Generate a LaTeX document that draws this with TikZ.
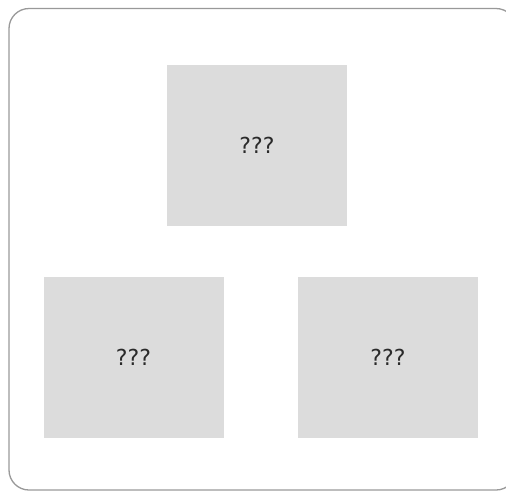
\documentclass[tikz,border=0pt]{standalone}
\usepackage{fontspec}
\setmainfont{DejaVu Sans}
\definecolor{boxfill}{HTML}{DCDCDC}
\definecolor{framecol}{HTML}{999999}
\definecolor{txt}{HTML}{2A2A2A}
\begin{document}
\begin{tikzpicture}[x=1pt,y=-1pt,
  unk/.style={fill=boxfill,draw=none,minimum width=180pt,minimum height=161pt,inner sep=0pt,
    text=txt,font=\fontsize{22}{26}\selectfont}]
\useasboundingbox (0,0) rectangle (506,491);
\begin{scope}
\clip (0,0) rectangle (506,491);
\draw[framecol,line width=1.3pt,rounded corners=20pt] (9,8.5) rectangle (516,490);
\end{scope}
\node[unk] (top) at (257,145) {???};
\node[unk] (bl) at (133.5,357.5) {???};
\node[unk] (br) at (388,357.5) {???};
\end{tikzpicture}
\end{document}
